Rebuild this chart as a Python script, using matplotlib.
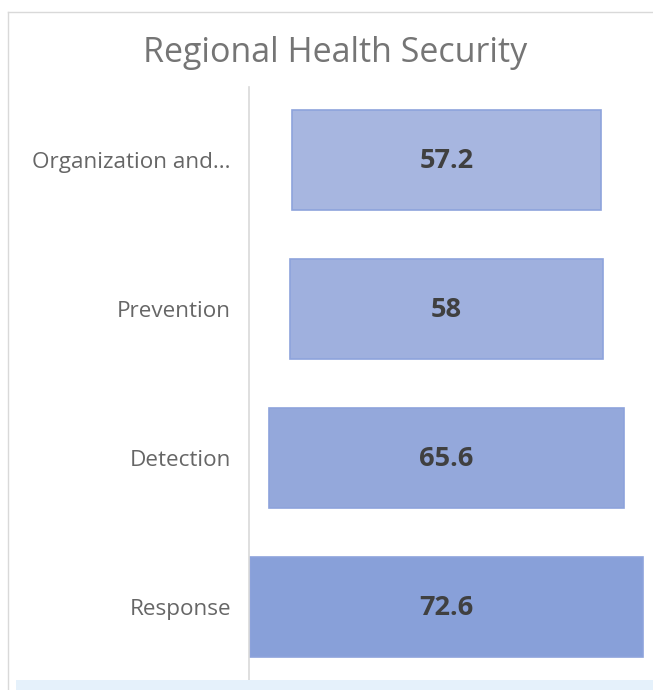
import matplotlib
matplotlib.use("Agg")
import matplotlib.pyplot as plt
from matplotlib.patches import Rectangle
from matplotlib.lines import Line2D
from matplotlib.transforms import ScaledTranslation

categories = ["Organization and...", "Prevention", "Detection", "Response"]
values = [57.2, 58, 65.6, 72.6]
value_labels = ["57.2", "58", "65.6", "72.6"]
colors = ["#A7B6E0", "#9FB0DE", "#94A8DB", "#88A0D9"]

W, H = 653, 690
fig = plt.figure(figsize=(W / 100, H / 100), dpi=100)
fig.patch.set_facecolor("white")

# chart frame and bottom band
fig.add_artist(Line2D([8 / W, 8 / W], [0, 1 - 12 / H], color="#D9D9D9", lw=1))
fig.add_artist(Line2D([8 / W, 1], [1 - 12 / H, 1 - 12 / H], color="#D9D9D9", lw=1))
fig.add_artist(Rectangle((16 / W, 0), 1, 10 / H, color="#E5F1FB", lw=0))

ax_l, ax_r, ax_t, ax_b = 249, 644, 87, 680
ax = fig.add_axes([ax_l / W, 1 - ax_b / H, (ax_r - ax_l) / W, (ax_b - ax_t) / H])
half = max(values) / 2 + 0.2
ax.set_xlim(-half, half)
ax.set_ylim(3.49, -0.49)

ys = list(range(len(categories)))
for y, v, c, lab in zip(ys, values, colors, value_labels):
    ax.barh(y, v, left=-v / 2, height=0.665, color=c, edgecolor="#8DA3DC", linewidth=1.2)
    ax.text(0, y + 0.01, lab, ha="center", va="center", fontsize=19.5, fontweight="bold",
            color="#404040", family="Open Sans")

ax.set_yticks(ys)
ax.set_yticklabels(categories, fontsize=16.2, color="#666666", family="Open Sans")
shift = ScaledTranslation(0, -2.5 / 100, fig.dpi_scale_trans)
for t in ax.get_yticklabels():
    t.set_transform(t.get_transform() + shift)
ax.tick_params(axis="y", length=0, pad=13)
ax.set_xticks([])
for s in ["top", "right", "bottom"]:
    ax.spines[s].set_visible(False)
ax.spines["left"].set_color("#D9D9D9")
ax.spines["left"].set_linewidth(1.2)
ax.patch.set_alpha(0)

fig.text(335 / W, 1 - 52.5 / H, "Regional Health Security", ha="center", va="center",
         fontsize=24.5, color="#757575", family="Open Sans")

fig.savefig("out.png", dpi=100)
